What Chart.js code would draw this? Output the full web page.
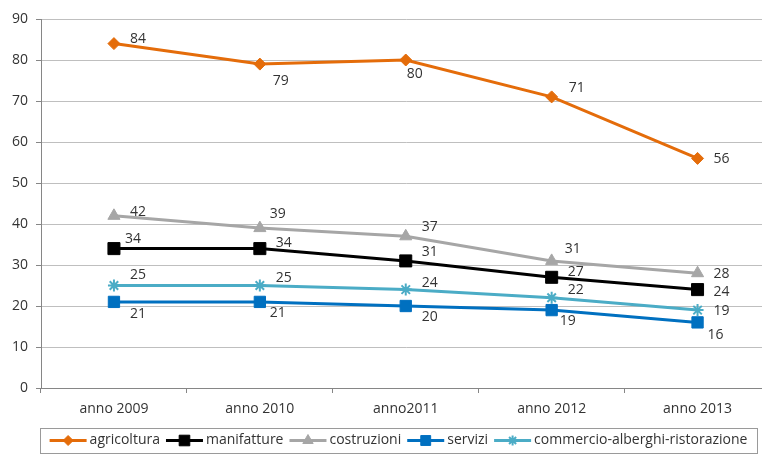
<!DOCTYPE html>
<html>
<head>
<meta charset="utf-8">
<script src="https://cdn.jsdelivr.net/npm/chart.js@4/dist/chart.umd.min.js"></script>
<style>
  html, body { margin: 0; padding: 0; background: #fff; overflow: hidden; }
  #wrap { width: 762px; height: 455px; overflow: hidden; }
</style>
</head>
<body>
<div id="wrap"><canvas id="chart" width="780" height="455"></canvas></div>
<script>
// ============================= data

const categories = ['anno 2009', 'anno 2010', 'anno2011', 'anno 2012', 'anno 2013']
const agricoltura = [84, 79, 80, 71, 56]
const manifatture = [34, 34, 31, 27, 24]
const costruzioni = [42, 39, 37, 31, 28]
const servizi = [21, 21, 20, 19, 16]
const commercio = [25, 25, 24, 22, 19]
const yMin = 0, yMax = 90, yStep = 10

// label offsets from each point (pixels), as placed in the original
const labelOffsets = {
    agricoltura: [[24, -5], [21, 17], [9, 14], [25, -9], [24, 1]],
    manifatture: [[19, -10], [24, -6], [24, -9], [24, -5], [24, 2]],
    costruzioni: [[24, -4], [18, -14], [24, -9], [21, -12], [24, 1]],
    servizi: [[24, 12], [18, 11], [24, 11], [16, 11], [18, 13]],
    commercio: [[24, -10], [24, -7], [24, -7], [24, -8], [24, 1]]
}

const FONT = '"Open Sans", "Noto Sans", sans-serif'
const TEXT = '#333333'

const makeSet = (label, data, color, pointStyle, radius, offsets) => ({
    label, data,
    borderColor: color,
    backgroundColor: color,
    borderWidth: 3,
    pointStyle,
    pointRadius: radius,
    pointBorderWidth: pointStyle === 'star' ? 2 : 1,
    pointBackgroundColor: color,
    pointBorderColor: color,
    tension: 0,
    labelOffsets: offsets
})

const datasets = [
    makeSet('agricoltura', agricoltura, '#E46C0A', 'rectRot', 6, labelOffsets.agricoltura),
    makeSet('manifatture', manifatture, '#000000', 'rect', 8.5, labelOffsets.manifatture),
    makeSet('costruzioni', costruzioni, '#A6A6A6', 'triangle', 7, labelOffsets.costruzioni),
    makeSet('servizi', servizi, '#0070C0', 'rect', 8, labelOffsets.servizi),
    makeSet('commercio-alberghi-ristorazione', commercio, '#4BACC6', 'star', 6, labelOffsets.commercio)
]

// ============================= value labels

const valueLabels = {
    id: 'valueLabels',
    afterDatasetsDraw(chart) {
        const ctx = chart.ctx
        ctx.save()
        ctx.font = `14px ${FONT}`
        ctx.fillStyle = TEXT
        ctx.textAlign = 'center'
        ctx.textBaseline = 'middle'
        chart.data.datasets.forEach((ds, di) => {
            chart.getDatasetMeta(di).data.forEach((pt, i) => {
                const off = ds.labelOffsets[i]
                ctx.fillText(ds.data[i], pt.x + off[0], pt.y + off[1])
            })
        })
        ctx.restore()
    }
}

// ============================= boxed legend at the bottom

const boxLegend = {
    id: 'boxLegend',
    afterDraw(chart) {
        const ctx = chart.ctx
        const box = { left: 40, right: 757, top: 428, bottom: 453 }
        const iconW = 37, gap = 3, between = 6
        ctx.save()
        ctx.font = `14px ${FONT}`
        const items = chart.data.datasets.map(ds => ({ ds, w: ctx.measureText(ds.label).width }))
        const total = items.reduce((s, it) => s + iconW + gap + it.w, 0) + between * (items.length - 1)
        let x = (box.left + box.right) / 2 - total / 2
        const cy = (box.top + box.bottom) / 2

        ctx.strokeStyle = '#9A9A9A'
        ctx.lineWidth = 1
        ctx.strokeRect(box.left + 0.5, box.top + 0.5, box.right - box.left, box.bottom - box.top)

        items.forEach(({ ds, w }) => {
            ctx.strokeStyle = ds.borderColor
            ctx.lineWidth = 3
            ctx.beginPath()
            ctx.moveTo(x, cy)
            ctx.lineTo(x + iconW, cy)
            ctx.stroke()
            ctx.fillStyle = ds.borderColor
            ctx.strokeStyle = ds.borderColor
            ctx.lineWidth = ds.pointBorderWidth
            Chart.helpers.drawPoint(ctx, {
                pointStyle: ds.pointStyle,
                radius: ds.pointRadius - 1,
                borderWidth: ds.pointBorderWidth
            }, x + iconW / 2, cy)
            ctx.fillStyle = TEXT
            ctx.textAlign = 'left'
            ctx.textBaseline = 'middle'
            ctx.fillText(ds.label, x + iconW + gap, cy)
            x += iconW + gap + w + between
        })
        ctx.restore()
    }
}

new Chart(document.getElementById('chart'), {
    type: 'line',
    data: { labels: categories, datasets },
    options: {
        responsive: false,
        animation: false,
        layout: { padding: { top: 19, right: 8, left: 0, bottom: 0 } },
        plugins: {
            legend: { display: false },
            tooltip: { enabled: false }
        },
        scales: {
            x: {
                offset: true,
                grid: { display: true, offset: true, drawOnChartArea: false, drawTicks: true, tickLength: 5, color: '#868686' },
                border: { color: '#868686', width: 1 },
                ticks: { color: TEXT, font: { family: FONT, size: 14 }, padding: 8, maxRotation: 0 },
                afterFit: (scale) => { scale.height = 67 }
            },
            y: {
                min: yMin, max: yMax,
                ticks: { stepSize: yStep, color: TEXT, font: { family: FONT, size: 14 }, padding: 8 },
                grid: { color: '#BFBFBF', tickLength: 5, tickColor: '#868686' },
                border: { color: '#868686', width: 1 },
                afterFit: (scale) => { scale.width = 41 }
            }
        }
    },
    plugins: [valueLabels, boxLegend]
})
</script>
</body>
</html>
